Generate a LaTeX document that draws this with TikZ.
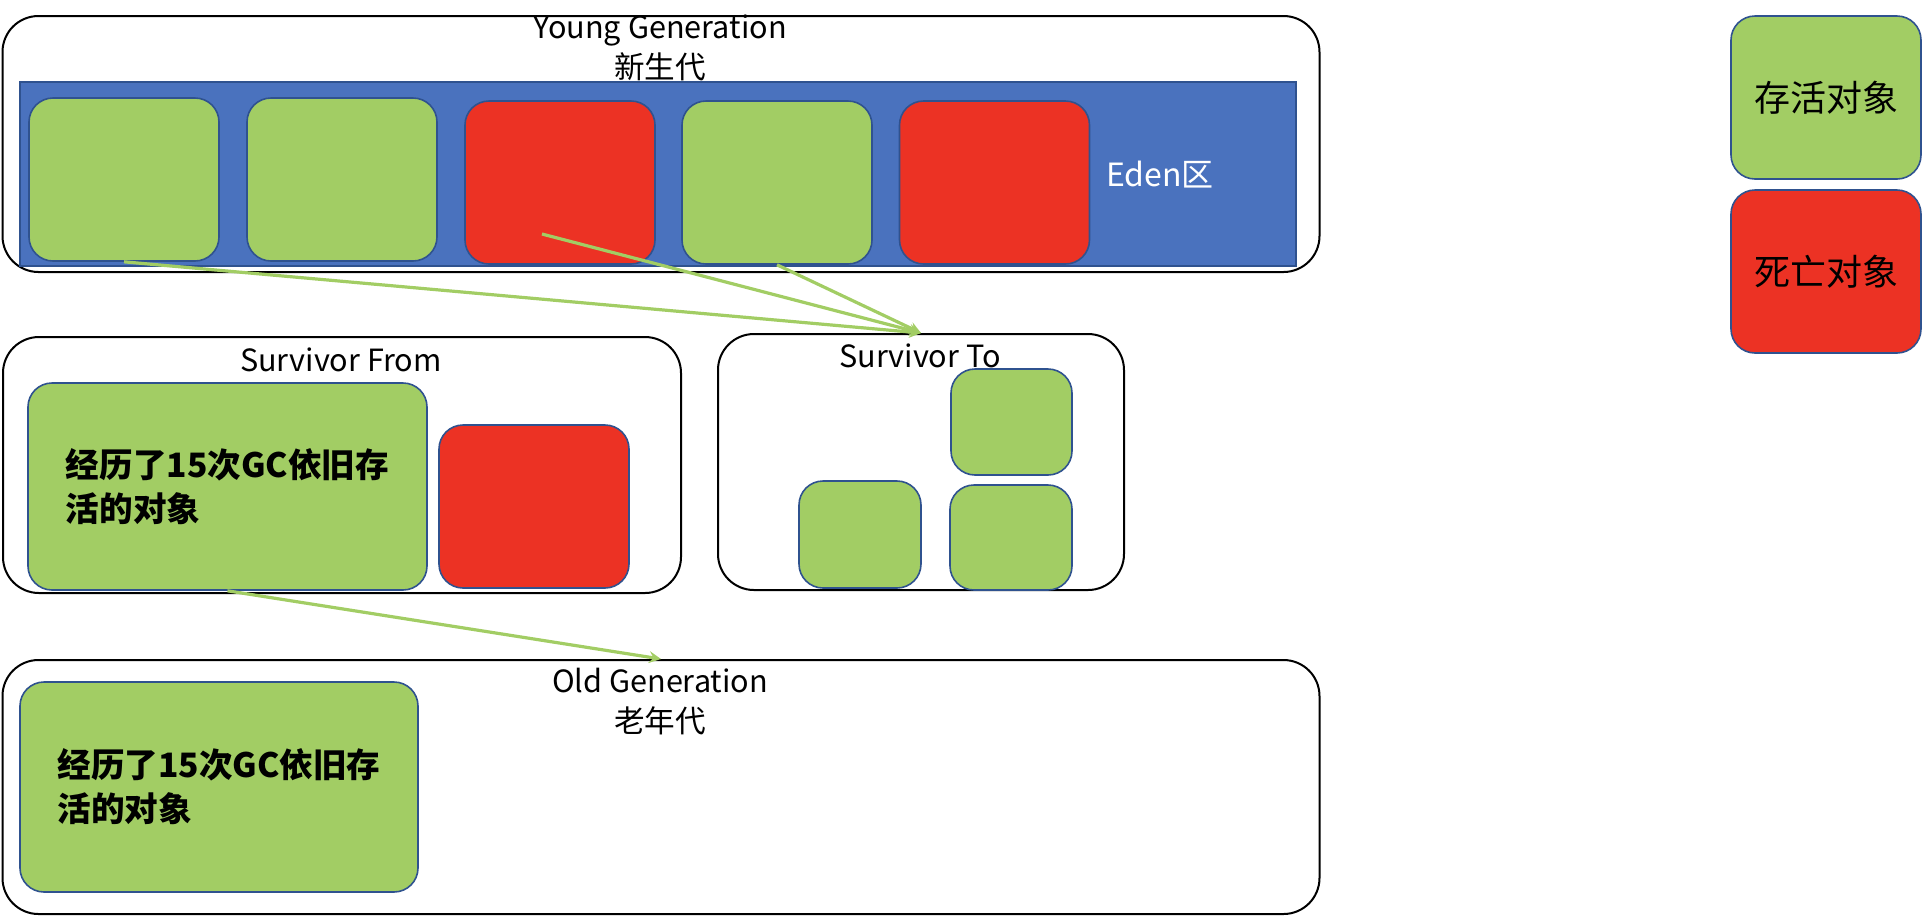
\documentclass[tikz,border=0pt]{standalone}
\usepackage{fontspec}
\setmainfont{Noto Sans CJK SC}
\usetikzlibrary{arrows}
\definecolor{livegreen}{HTML}{A2CD64}
\definecolor{deadred}{HTML}{EC3224}
\definecolor{edenblue}{HTML}{4A72BE}
\definecolor{objborder}{HTML}{2F528F}
\begin{document}
\begin{tikzpicture}[x=0.5pt,y=-0.5pt,>=stealth,
    area/.style={draw=black,line width=1pt,rounded corners=18pt,minimum width=658.5pt,minimum height=128pt},
    obj/.style={draw=objborder,line width=.8pt,rounded corners=12pt,minimum width=95pt,minimum height=81.5pt},
    live/.style={obj,fill=livegreen},
    dead/.style={obj,fill=deadred},
    title/.style={align=center,font=\fontsize{15.3}{20}\selectfont},
    aged/.style={live,align=left,font=\fontsize{16.8}{22}\selectfont\bfseries},
    move/.style={->,draw=livegreen,line width=1.6pt}]
  \useasboundingbox (0,0) rectangle (1924,918);
  % young generation
  \node [area] (young) at (661,144) {};
  \node [fill=edenblue,draw=objborder,line width=.6pt,minimum width=638pt,minimum height=92pt] (eden) at (658,174) {};
  \node [title] (youngt) at (660,48) {Young Generation\\新生代};
  \node [live] (e1) at (124,179.5) {};
  \node [live] (e2) at (342,179.5) {};
  \node [dead] (e3) at (560,182.5) {};
  \node [live] (e4) at (777,182.5) {};
  \node [dead] (e5) at (994.5,182.5) {};
  \node [white,font=\fontsize{16}{18}\selectfont] (edent) at (1160,175) {Eden区};
  % survivor from
  \node [area,minimum width=339pt] (sfrom) at (342,465) {};
  \node [title] (sfromt) at (341,360) {Survivor From};
  \node [aged,minimum width=199.5pt,minimum height=103.5pt] (old15) at (227.5,486.5) {经历了15次GC依旧存\\活的对象};
  \node [dead] (sred) at (534,506.5) {};
  % survivor to
  \node [area,minimum width=203pt] (sto) at (921,462) {};
  \node [title] (stot) at (920,356) {Survivor To};
  \node [live,minimum width=60.5pt,minimum height=53pt] (t1) at (1011.5,422) {};
  \node [live,minimum width=61pt,minimum height=53.5pt] (t2) at (860,534.5) {};
  \node [live,minimum width=61pt,minimum height=52.5pt] (t3) at (1011,537.5) {};
  % old generation
  \node [area,minimum height=127pt] (old) at (661,787) {};
  \node [title] (oldt) at (660,702) {Old Generation\\老年代};
  \node [aged,minimum width=199pt,minimum height=105pt] (oldobj) at (219,787) {经历了15次GC依旧存\\活的对象};
  % legend
  \node [live,font=\fontsize{18}{20}\selectfont] (keylive) at (1826,97.5) {存活对象};
  \node [dead,font=\fontsize{18}{20}\selectfont] (keydead) at (1826,271.5) {死亡对象};
  % moves
  \coordinate (e3src) at (542,234);
  \draw [move] (e1.south) -- (sto.north);
  \draw [move] (e3src) -- (sto.north);
  \draw [move] (e4.south) -- (sto.north);
  \draw [move] (old15.south) -- (old.north);
\end{tikzpicture}
\end{document}
